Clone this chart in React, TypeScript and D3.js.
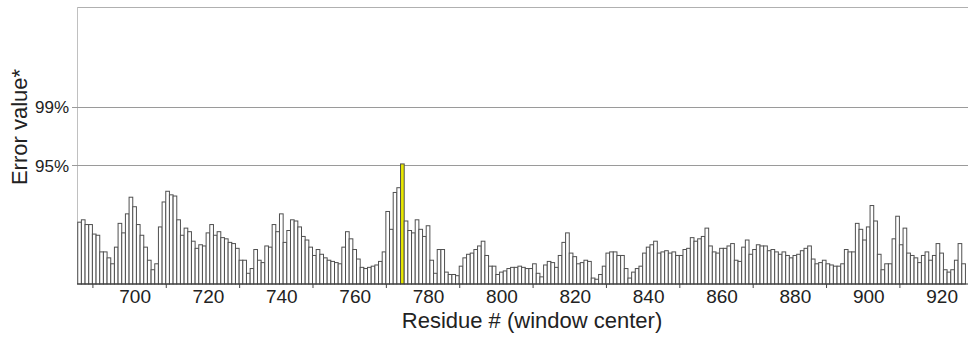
import React, { useEffect, useRef } from 'react'
import * as d3 from 'd3'

// residue numbers 685..926 (window centers)
const firstResidue = 685
// error value per window, scaled so that the 95% threshold = 1
const errorValues = [
    0.52, 0.54, 0.50, 0.50, 0.42, 0.41, 0.27, 0.27, 0.22, 0.17,
    0.31, 0.51, 0.43, 0.59, 0.73, 0.65, 0.50, 0.41, 0.31, 0.20,
    0.12, 0.17, 0.48, 0.69, 0.78, 0.75, 0.74, 0.54, 0.41, 0.47,
    0.44, 0.36, 0.30, 0.33, 0.32, 0.43, 0.50, 0.41, 0.44, 0.39,
    0.38, 0.35, 0.34, 0.30, 0.20, 0.20, 0.09, 0.13, 0.29, 0.20,
    0.18, 0.32, 0.31, 0.50, 0.44, 0.59, 0.35, 0.45, 0.54, 0.53,
    0.48, 0.40, 0.37, 0.31, 0.24, 0.29, 0.25, 0.22, 0.20, 0.19,
    0.18, 0.17, 0.31, 0.44, 0.38, 0.29, 0.21, 0.14, 0.13, 0.14,
    0.15, 0.16, 0.19, 0.27, 0.61, 0.46, 0.77, 0.81, 1.01, 0.53,
    0.45, 0.43, 0.54, 0.46, 0.40, 0.49, 0.20, 0.09, 0.29, 0.29,
    0.10, 0.08, 0.08, 0.07, 0.15, 0.22, 0.25, 0.26, 0.29, 0.32,
    0.36, 0.24, 0.15, 0.15, 0.08, 0.10, 0.11, 0.13, 0.14, 0.14,
    0.15, 0.14, 0.13, 0.13, 0.17, 0.09, 0.06, 0.16, 0.19, 0.18,
    0.14, 0.24, 0.35, 0.43, 0.26, 0.23, 0.17, 0.18, 0.20, 0.19,
    0.05, 0.04, 0.08, 0.15, 0.26, 0.27, 0.27, 0.24, 0.24, 0.13,
    0.05, 0.10, 0.13, 0.15, 0.26, 0.31, 0.33, 0.36, 0.26, 0.27,
    0.28, 0.26, 0.27, 0.24, 0.24, 0.29, 0.30, 0.39, 0.36, 0.38,
    0.40, 0.47, 0.32, 0.27, 0.26, 0.30, 0.30, 0.32, 0.34, 0.20,
    0.19, 0.31, 0.37, 0.25, 0.29, 0.33, 0.32, 0.32, 0.28, 0.29,
    0.27, 0.25, 0.27, 0.24, 0.22, 0.24, 0.25, 0.28, 0.30, 0.32,
    0.21, 0.17, 0.18, 0.20, 0.17, 0.16, 0.15, 0.15, 0.17, 0.29,
    0.27, 0.27, 0.51, 0.46, 0.37, 0.48, 0.66, 0.53, 0.25, 0.12,
    0.17, 0.17, 0.38, 0.57, 0.33, 0.47, 0.26, 0.24, 0.22, 0.18,
    0.24, 0.27, 0.20, 0.24, 0.34, 0.26, 0.12, 0.10, 0.12, 0.20,
    0.34, 0.17,
]
const highlighted = [773]

const thresholdValues = [1.0, 1.49]
const thresholdLabels = ['95%', '99%']
const xTickValues = [700, 720, 740, 760, 780, 800, 820, 840, 860, 880, 900, 920]
const xMinorTicks = [688.5, 708.5, 728.5, 748.5, 768.5, 788.5, 808.5, 828.5, 848.5, 868.5, 888.5, 908.5]
const xDomain = [684.3, 927.2]
const yMax = 2.33

const font = '"Liberation Sans", Arial, sans-serif'

export default function App() {
    const ref = useRef<SVGSVGElement>(null)

    useEffect(() => {
        document.body.style.margin = '0'
        const svg = d3.select(ref.current)
        svg.selectAll('*').remove() // clear on re-render

        const width = 968
        const height = 338
        const margin = { top: 7, right: 0, bottom: 54, left: 77 }

        const data = errorValues.map((v, i) => ({ res: firstResidue + i, val: v }))

        const x = d3.scaleLinear()
            .domain(xDomain)
            .range([margin.left, width - margin.right])

        const y = d3.scaleLinear()
            .domain([0, yMax])
            .range([height - margin.bottom, margin.top])

        // frame (top + left)
        svg.append('line')
            .attr('x1', margin.left).attr('x2', width)
            .attr('y1', margin.top + 0.5).attr('y2', margin.top + 0.5)
            .attr('stroke', '#b0b0b0')
        svg.append('line')
            .attr('x1', margin.left + 0.5).attr('x2', margin.left + 0.5)
            .attr('y1', margin.top).attr('y2', y(0))
            .attr('stroke', '#c0c0c0')

        // threshold lines
        svg.append('g')
            .selectAll('line')
            .data(thresholdValues)
            .join('line')
            .attr('x1', margin.left - 5)
            .attr('x2', width)
            .attr('y1', d => Math.round(y(d)) + 0.5)
            .attr('y2', d => Math.round(y(d)) + 0.5)
            .attr('stroke', '#9a9a9a')

        // y labels
        const yAxis = svg.append('g')
            .attr('transform', `translate(${margin.left},0.5)`)
            .call(d3.axisLeft(y)
                .tickValues(thresholdValues)
                .tickFormat((d, i) => thresholdLabels[i])
                .tickSize(0)
                .tickPadding(8))
        yAxis.select('.domain').remove()
        yAxis.selectAll('text')
            .attr('font-family', font)
            .attr('font-size', 17)
            .attr('fill', '#222')

        // bars
        svg.append('g')
            .selectAll('rect')
            .data(data)
            .join('rect')
            .attr('x', d => x(d.res - 0.5))
            .attr('width', d => x(d.res + 0.5) - x(d.res - 0.5))
            .attr('y', d => y(d.val))
            .attr('height', d => y(0) - y(d.val))
            .attr('fill', d => highlighted.includes(d.res) ? '#e8e800' : '#fff')
            .attr('stroke', '#505050')
            .attr('stroke-width', 1)

        // baseline
        svg.append('line')
            .attr('x1', margin.left).attr('x2', width)
            .attr('y1', y(0)).attr('y2', y(0))
            .attr('stroke', '#333')

        // minor ticks
        const minor = svg.append('g')
            .attr('transform', `translate(0,${y(0)})`)
            .call(d3.axisBottom(x).tickValues(xMinorTicks).tickSize(4).tickFormat(() => ''))
        minor.select('.domain').remove()
        minor.selectAll('line').attr('stroke', '#444')

        // x labels
        const xAxis = svg.append('g')
            .attr('transform', `translate(0,${y(0)})`)
            .call(d3.axisBottom(x).tickValues(xTickValues).tickSize(0).tickPadding(6))
        xAxis.select('.domain').remove()
        xAxis.selectAll('text')
            .attr('font-family', font)
            .attr('font-size', 19)
            .attr('fill', '#222')

        // titles
        svg.append('text')
            .attr('x', 532)
            .attr('y', 328)
            .attr('text-anchor', 'middle')
            .attr('font-family', font)
            .attr('font-size', 22)
            .attr('fill', '#222')
            .text('Residue # (window center)')

        svg.append('text')
            .attr('transform', 'translate(27,127) rotate(-90)')
            .attr('text-anchor', 'middle')
            .attr('font-family', font)
            .attr('font-size', 22)
            .attr('fill', '#222')
            .text('Error value*')
    }, [])

    return (
        <svg ref={ref} width={968} height={338} style={{ display: 'block' }}></svg>
    )
}
